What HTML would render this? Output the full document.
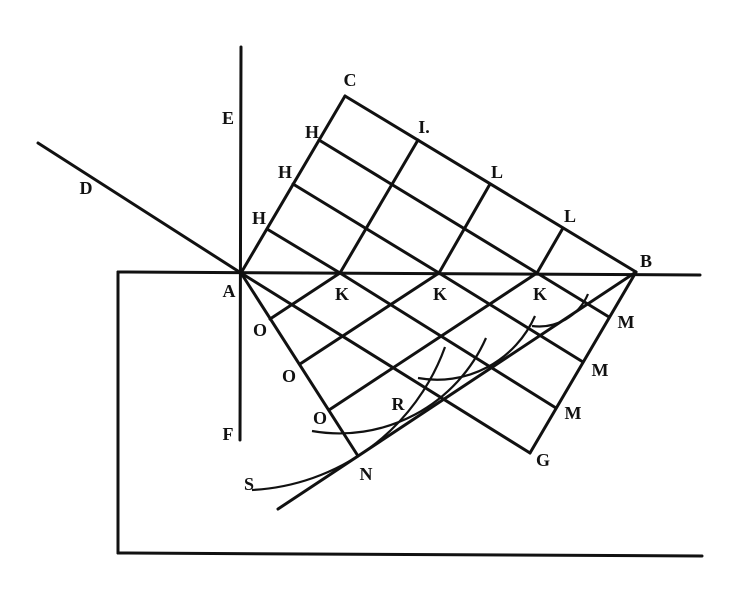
<!DOCTYPE html>
<html><head><style>body{margin:0;background:#fff}svg{display:block}</style></head><body>
<svg width="751" height="600" viewBox="0 0 751 600" xmlns="http://www.w3.org/2000/svg">
<g stroke="#111" stroke-width="3" fill="none" stroke-linecap="round">
<line x1="118" y1="272" x2="700" y2="275"/>
<line x1="118" y1="272" x2="118" y2="553"/>
<line x1="118" y1="553" x2="702" y2="556"/>
<line x1="241" y1="47" x2="240" y2="440"/>
<line x1="38" y1="143" x2="241" y2="273"/>
<line x1="241" y1="273" x2="345" y2="96"/>
<line x1="345" y1="96" x2="636" y2="272"/>
<line x1="267" y1="229" x2="340" y2="273"/>
<line x1="293" y1="184" x2="439" y2="273"/>
<line x1="319" y1="140" x2="537" y2="273"/>
<line x1="418" y1="140" x2="340" y2="273"/>
<line x1="490" y1="184" x2="439" y2="273"/>
<line x1="563" y1="228" x2="537" y2="273"/>
<line x1="241" y1="273" x2="358" y2="456"/>
<line x1="340" y1="273" x2="270" y2="319"/>
<line x1="439" y1="273" x2="300" y2="364"/>
<line x1="537" y1="273" x2="329" y2="410"/>
<line x1="636" y1="272" x2="278" y2="509"/>
<line x1="241" y1="273" x2="530" y2="453"/>
<line x1="636" y1="272" x2="530" y2="453"/>
<line x1="340" y1="273" x2="556" y2="408"/>
<line x1="439" y1="273" x2="583" y2="362"/>
<line x1="537" y1="273" x2="609" y2="317"/>
</g>
<g stroke="#111" stroke-width="2.2" fill="none">
<path d="M 252 490 A 217 217 0 0 0 445 347"/>
<path d="M 312 431 A 160 160 0 0 0 486 338"/>
<path d="M 418 378 A 107 107 0 0 0 535 316"/>
<path d="M 532 326 A 53 53 0 0 0 588 294"/>
</g>
<g font-family="Liberation Serif, serif" font-weight="bold" font-size="18" fill="#111" text-anchor="middle" dominant-baseline="central">
<text x="228" y="118">E</text>
<text x="350" y="80">C</text>
<text x="312" y="132">H</text>
<text x="285" y="172">H</text>
<text x="259" y="218">H</text>
<text x="424" y="127">I.</text>
<text x="497" y="172">L</text>
<text x="570" y="216">L</text>
<text x="86" y="188">D</text>
<text x="646" y="261">B</text>
<text x="229" y="291">A</text>
<text x="342" y="294">K</text>
<text x="440" y="294">K</text>
<text x="540" y="294">K</text>
<text x="260" y="330">O</text>
<text x="289" y="376">O</text>
<text x="320" y="418">O</text>
<text x="626" y="322">M</text>
<text x="600" y="370">M</text>
<text x="573" y="413">M</text>
<text x="398" y="404">R</text>
<text x="228" y="434">F</text>
<text x="543" y="460">G</text>
<text x="366" y="474">N</text>
<text x="249" y="484">S</text>
</g>
</svg>
</body></html>
